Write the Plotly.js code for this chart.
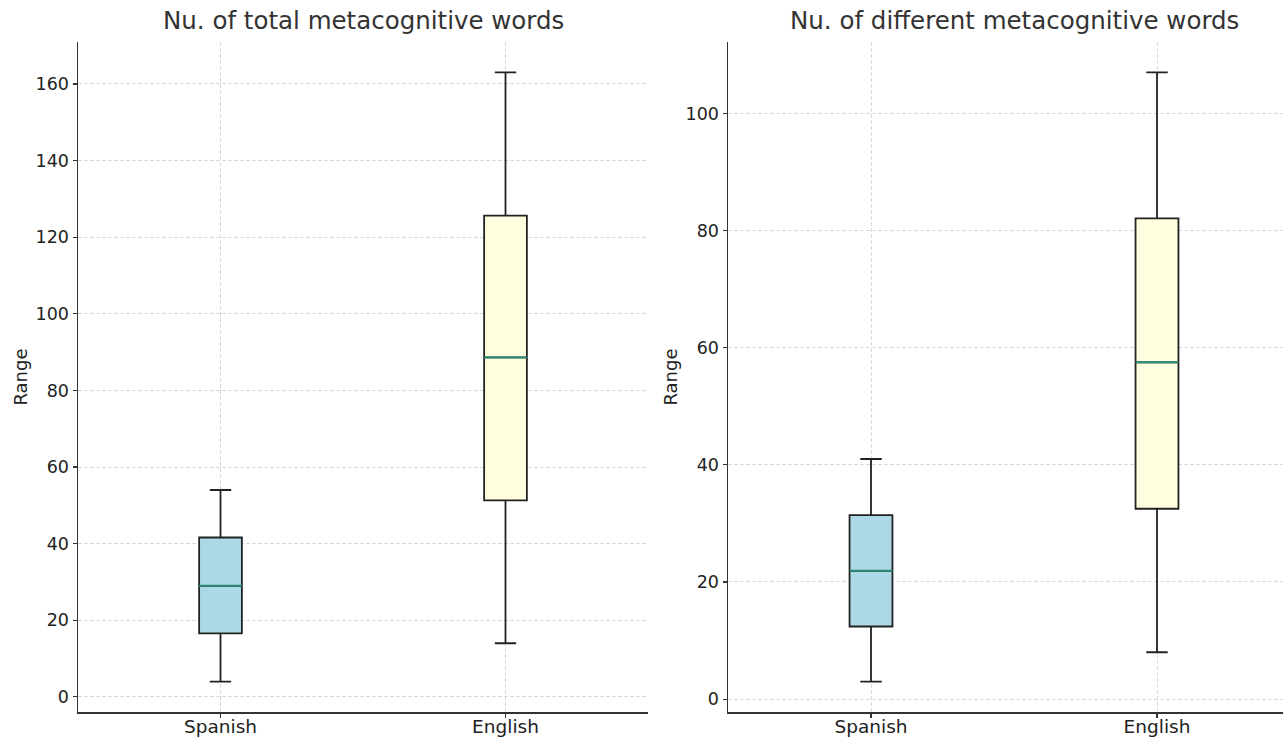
<!DOCTYPE html>
<html>
<head>
<meta charset="utf-8">
<script src="https://cdn.plot.ly/plotly-3.0.1.min.js"></script>
<style>
html, body { margin: 0; padding: 0; overflow: hidden; background: #fff; }
#chart { width: 1300px; height: 743px; }
</style>
</head>
<body>
<div id="chart"></div>
<script>
// Data
const categories = ["Spanish", "English"];
const positions = [1, 2];
const boxColors = ["#ADD8E6", "#FFFFE0"];

// Nu. of total metacognitive words
const totalLow    = [4, 14];
const totalQ1     = [16.6, 51.3];
const totalMedian = [29, 88.6];
const totalQ3     = [41.6, 125.6];
const totalHigh   = [54, 163];

// Nu. of different metacognitive words
const diffLow    = [3, 8];
const diffQ1     = [12.4, 32.5];
const diffMedian = [21.9, 57.5];
const diffQ3     = [31.4, 82.1];
const diffHigh   = [41, 107];

const titles = ["Nu. of total metacognitive words", "Nu. of different metacognitive words"];

const BOXW = 0.15;
const MEDIAN_COLOR = "#2a8c72";
const FONT = "DejaVu Sans, sans-serif";

function panelTraces(low, q1, med, q3, high, xa, ya) {
  const tr = [];
  for (let i = 0; i < categories.length; i++) {
    tr.push({
      type: "box",
      x: [positions[i]],
      lowerfence: [low[i]], q1: [q1[i]], median: [med[i]], q3: [q3[i]], upperfence: [high[i]],
      width: BOXW,
      whiskerwidth: 0.5,
      fillcolor: boxColors[i],
      line: { color: "#222", width: 1.8 },
      xaxis: xa, yaxis: ya,
      hoverinfo: "skip",
      showlegend: false
    });
    tr.push({
      type: "scatter", mode: "lines",
      x: [positions[i] - BOXW / 2, positions[i] + BOXW / 2],
      y: [med[i], med[i]],
      line: { color: MEDIAN_COLOR, width: 2 },
      xaxis: xa, yaxis: ya,
      hoverinfo: "skip", showlegend: false
    });
  }
  return tr;
}

const data = [
  ...panelTraces(totalLow, totalQ1, totalMedian, totalQ3, totalHigh, "x", "y"),
  ...panelTraces(diffLow, diffQ1, diffMedian, diffQ3, diffHigh, "x2", "y2")
];

function xAxis(domain, anchor) {
  return {
    domain: domain, anchor: anchor,
    range: [0.5, 2.5],
    tickvals: positions, ticktext: categories,
    showgrid: true, gridcolor: "#d9d9d9", griddash: "4px,2px", gridwidth: 1,
    zeroline: false,
    showline: true, linecolor: "#333", linewidth: 1.5,
    ticks: "outside", ticklen: 4, tickwidth: 1.2, tickcolor: "#333",
    ticklabelstandoff: -7,
    tickfont: { family: FONT, size: 18.5, color: "#222" },
    fixedrange: true
  };
}
function yAxis(range, anchor, ticks) {
  return {
    domain: [0, 1], anchor: anchor,
    range: range,
    tickvals: ticks,
    showgrid: true, gridcolor: "#d9d9d9", griddash: "4px,2px", gridwidth: 1,
    zeroline: false,
    showline: true, linecolor: "#333", linewidth: 1.5,
    ticks: "outside", ticklen: 4, tickwidth: 1.2, tickcolor: "#333",
    tickfont: { family: FONT, size: 17.5, color: "#222" },
    title: { text: "Range", font: { family: FONT, size: 18, color: "#222" }, standoff: 3 },
    fixedrange: true
  };
}

const layout = {
  width: 1300, height: 743,
  margin: { l: 78, r: 0, t: 42, b: 31 },
  paper_bgcolor: "#fff", plot_bgcolor: "#fff",
  font: { family: FONT },
  xaxis: xAxis([0, 570 / 1222], "y"),
  yaxis: yAxis([-3.95, 170.95], "x", [0, 20, 40, 60, 80, 100, 120, 140, 160]),
  xaxis2: xAxis([650 / 1222, 1], "y2"),
  yaxis2: yAxis([-2.2, 112.2], "x2", [0, 20, 40, 60, 80, 100]),
  annotations: [
    { text: titles[0], xref: "x domain", yref: "paper", x: 0.5, y: 1, yshift: 22, xanchor: "center", yanchor: "middle",
      showarrow: false, font: { family: FONT, size: 24.5, color: "#333" } },
    { text: titles[1], xref: "x2 domain", yref: "paper", x: 0.5, y: 1, yshift: 22, xanchor: "center", yanchor: "middle",
      showarrow: false, font: { family: FONT, size: 24.5, color: "#333" } }
  ]
};

Plotly.newPlot("chart", data, layout, { displayModeBar: false, staticPlot: true });
</script>
</body>
</html>
